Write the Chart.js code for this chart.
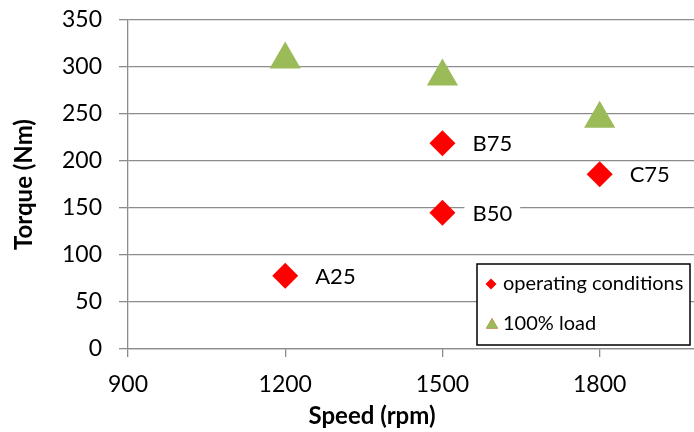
<!DOCTYPE html>
<html>
<head>
<meta charset="utf-8">
<script src="https://cdn.jsdelivr.net/npm/chart.js@4"></script>
<style>
  html, body { margin: 0; padding: 0; background: #fff; }
  #wrap { width: 694px; height: 432px; }
</style>
</head>
<body>
<div id="wrap"><canvas id="torqueChart" width="694" height="432"></canvas></div>
<script>
// operating points (red diamonds)
const opNames = ['A25', 'B50', 'B75', 'C75'];
const opSpeed = [1200, 1500, 1500, 1800];
const opTorque = [78, 145, 219, 186];

// 100% load points (green triangles)
const fullSpeed = [1200, 1500, 1800];
const fullTorque = [308, 290, 245];

const xTicks = [900, 1200, 1500, 1800];
const yTicks = [0, 50, 100, 150, 200, 250, 300, 350];

const seriesNames = ['operating conditions', '100% load'];
const xTitle = 'Speed (rpm)';
const yTitle = 'Torque (Nm)';

const FONT = 'Lato, "Open Sans", sans-serif';

// labels next to the diamonds
const pointLabels = {
    id: 'pointLabels',
    afterDatasetsDraw(chart) {
        const ctx = chart.ctx;
        const meta = chart.getDatasetMeta(0);
        ctx.save();
        ctx.font = '22px ' + FONT;
        ctx.textBaseline = 'middle';
        meta.data.forEach((pt, i) => {
            const tx = pt.x + 30;
            const w = ctx.measureText(opNames[i]).width;
            ctx.fillStyle = '#fff';
            ctx.fillRect(tx - 8, pt.y - 11, w + 16, 22);
            ctx.fillStyle = '#000';
            ctx.fillText(opNames[i], tx, pt.y + 1);
        });
        ctx.restore();
    }
};

// boxed legend inside the plot + x axis title (sits left of centre in the original)
const boxLegend = {
    id: 'boxLegend',
    afterDraw(chart) {
        const ctx = chart.ctx;
        const a = chart.chartArea;
        const x = a.right - 217, y = 264, w = 213, h = 81;
        ctx.save();
        ctx.fillStyle = '#fff';
        ctx.fillRect(x, y, w, h);
        ctx.strokeStyle = '#000';
        ctx.lineWidth = 1.5;
        ctx.strokeRect(x, y, w, h);

        Chart.helpers.drawPoint(ctx, { pointStyle: 'rectRot', radius: 5.5, borderWidth: 0 }, x + 14, y + 20);
        ctx.fillStyle = '#f00';
        ctx.fill();
        Chart.helpers.drawPoint(ctx, { pointStyle: 'triangle', radius: 7, borderWidth: 0 }, x + 15, y + 61);
        ctx.fillStyle = '#9bbb59';
        ctx.fill();

        ctx.fillStyle = '#000';
        ctx.font = '20px ' + FONT;
        ctx.textBaseline = 'middle';
        ctx.fillText(seriesNames[0], x + 26, y + 20);
        ctx.fillText(seriesNames[1], x + 26, y + 60);

        ctx.font = 'bold 24px ' + FONT;
        ctx.textAlign = 'center';
        ctx.fillText(xTitle, a.left + 244, 416);
        ctx.restore();
    }
};

const ctx = document.getElementById('torqueChart').getContext('2d');
new Chart(ctx, {
    type: 'scatter',
    data: {
        datasets: [{
            label: seriesNames[0],
            data: opSpeed.map((s, i) => ({ x: s, y: opTorque[i] })),
            pointStyle: 'rectRot',
            pointRadius: 13,
            pointHoverRadius: 13,
            pointBorderWidth: 0,
            backgroundColor: '#ff0000',
            borderColor: '#ff0000'
        }, {
            label: seriesNames[1],
            data: fullSpeed.map((s, i) => ({ x: s, y: fullTorque[i] })),
            pointStyle: 'triangle',
            pointRadius: 18,
            pointHoverRadius: 18,
            pointBorderWidth: 0,
            backgroundColor: '#9bbb59',
            borderColor: '#9bbb59'
        }]
    },
    options: {
        responsive: false,
        animation: false,
        layout: { autoPadding: false, padding: { top: 20, right: 0, left: 0, bottom: 0 } },
        plugins: {
            legend: { display: false },
            tooltip: { enabled: false }
        },
        scales: {
            x: {
                type: 'linear',
                min: 900,
                max: 1980,
                afterBuildTicks: (scale) => {
                    scale.ticks = xTicks.map(v => ({ value: v }));
                },
                afterFit: (scale) => {
                    scale.height = 83;
                    scale.paddingLeft = 0;
                    scale.paddingRight = 0;
                },
                ticks: {
                    color: '#000',
                    font: { family: FONT, size: 23 },
                    padding: 14,
                    maxRotation: 0,
                    callback: (v) => String(v)
                },
                grid: {
                    drawOnChartArea: false,
                    drawTicks: true,
                    tickLength: 8,
                    color: '#8c8c8c',
                    lineWidth: 1.3
                },
                border: { color: '#8c8c8c', width: 1.3 }
            },
            y: {
                min: 0,
                max: 350,
                afterBuildTicks: (scale) => {
                    scale.ticks = yTicks.map(v => ({ value: v }));
                },
                afterFit: (scale) => {
                    scale.width = 128;
                    scale.paddingTop = 0;
                    scale.paddingBottom = 0;
                },
                ticks: {
                    color: '#000',
                    font: { family: FONT, size: 23 },
                    padding: 17,
                    callback: (v) => String(v)
                },
                grid: {
                    color: '#8c8c8c',
                    lineWidth: 1.3,
                    drawTicks: true,
                    tickLength: 9
                },
                border: { color: '#8c8c8c', width: 1.3 },
                title: {
                    display: true,
                    text: yTitle,
                    color: '#000',
                    font: { family: FONT, size: 24, weight: 'bold' },
                    padding: { top: 10, bottom: 0 }
                }
            }
        }
    },
    plugins: [pointLabels, boxLegend]
});
</script>
</body>
</html>
